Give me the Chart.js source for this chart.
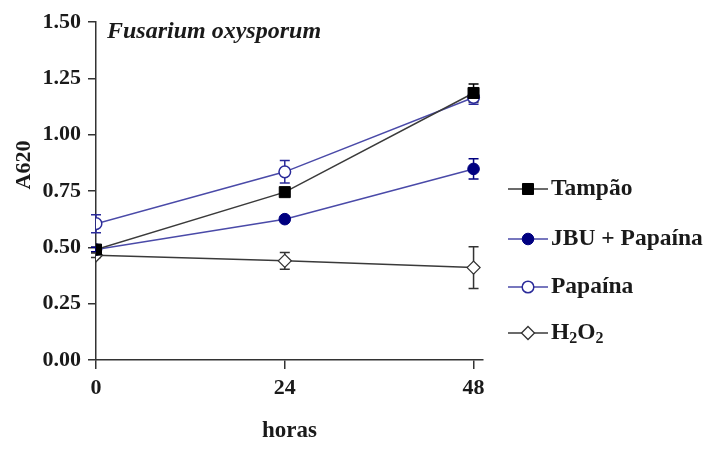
<!DOCTYPE html>
<html>
<head>
<meta charset="utf-8">
<script src="https://cdn.jsdelivr.net/npm/chart.js@4.4.1/dist/chart.umd.min.js"></script>
<style>
  html, body { margin: 0; padding: 0; background: #fff; }
  #wrap { width: 708px; height: 449px; }
</style>
</head>
<body>
<div id="wrap"><canvas id="c" width="708" height="449"></canvas></div>
<script>
// Hours of incubation
const horas = [0, 24, 48];
const xTicks = [0, 24, 48];

// Mean absorbance (A620) and error per treatment
const tampao = [0.49, 0.745, 1.185];
const tampaoErr = [0.01, 0.015, 0.04];
const jbuPapaina = [0.49, 0.625, 0.848];
const jbuPapainaErr = [0.01, 0.012, 0.045];
const papaina = [0.605, 0.835, 1.165];
const papainaErr = [0.04, 0.05, 0.03];
const h2o2 = [0.465, 0.44, 0.41];
const h2o2Err = [0.01, 0.037, 0.093];

const seriesNames = ['Tampão', 'JBU + Papaína', 'Papaína', 'H2O2'];

const SERIF = '"Liberation Serif", "Times New Roman", serif';
const INK = '#1a1a1a';

function pts(values) {
  return values.map((v, i) => ({ x: horas[i], y: v }));
}

const datasets = [
  {
    label: seriesNames[0], data: pts(tampao), err: tampaoErr,
    borderColor: '#3a3a3a', borderWidth: 1.5,
    pointStyle: 'rect', pointRadius: 7.8, pointBackgroundColor: '#000', pointBorderColor: '#000', pointBorderWidth: 1
  },
  {
    label: seriesNames[1], data: pts(jbuPapaina), err: jbuPapainaErr,
    borderColor: '#4a4aa8', borderWidth: 1.5,
    pointStyle: 'circle', pointRadius: 5.8, pointBackgroundColor: '#000080', pointBorderColor: '#000080', pointBorderWidth: 1
  },
  {
    label: seriesNames[2], data: pts(papaina), err: papainaErr,
    borderColor: '#4a4aa8', borderWidth: 1.5,
    pointStyle: 'circle', pointRadius: 5.8, pointBackgroundColor: '#fff', pointBorderColor: '#2b2b9a', pointBorderWidth: 1.5
  },
  {
    label: seriesNames[3], data: pts(h2o2), err: h2o2Err,
    borderColor: '#3a3a3a', borderWidth: 1.5,
    pointStyle: 'rectRot', pointRadius: 6.5, pointBackgroundColor: '#fff', pointBorderColor: '#333', pointBorderWidth: 1.3
  }
];
datasets.forEach(d => { d.fill = false; d.tension = 0; d.errColor = d.pointBorderColor; });

// Vertical error bars with caps, drawn under the markers
const errorBars = {
  id: 'errorBars',
  beforeDatasetsDraw(chart) {
    const { ctx, scales: { x, y } } = chart;
    ctx.save();
    ctx.lineWidth = 1.5;
    chart.data.datasets.forEach(ds => {
      ctx.strokeStyle = ds.errColor;
      ds.data.forEach((p, i) => {
        const e = ds.err[i];
        if (!e) return;
        const px = x.getPixelForValue(p.x);
        const y1 = y.getPixelForValue(p.y + e);
        const y2 = y.getPixelForValue(p.y - e);
        ctx.beginPath();
        ctx.moveTo(px, y1); ctx.lineTo(px, y2);
        ctx.moveTo(px - 5, y1); ctx.lineTo(px + 5, y1);
        ctx.moveTo(px - 5, y2); ctx.lineTo(px + 5, y2);
        ctx.stroke();
      });
    });
    ctx.restore();
  }
};

// Text that sits outside the axes: species name, y title and the key
const annotations = {
  id: 'annotations',
  afterDraw(chart) {
    const { ctx } = chart;
    ctx.save();
    ctx.fillStyle = INK;

    ctx.font = 'italic bold 24px ' + SERIF;
    ctx.textAlign = 'left';
    ctx.textBaseline = 'alphabetic';
    ctx.fillText('Fusarium oxysporum', 107, 38);

    ctx.save();
    ctx.translate(24, 165);
    ctx.rotate(-Math.PI / 2);
    ctx.font = 'bold 22px ' + SERIF;
    ctx.textAlign = 'center';
    ctx.textBaseline = 'middle';
    ctx.fillText('A620', 0, 0);
    ctx.restore();

    const rowsY = [189, 239, 287, 333];
    const x0 = 508, x1 = 548, tx = 551;
    chart.data.datasets.forEach((ds, i) => {
      const yy = rowsY[i];
      ctx.strokeStyle = ds.borderColor;
      ctx.lineWidth = 1.5;
      ctx.beginPath(); ctx.moveTo(x0, yy); ctx.lineTo(x1, yy); ctx.stroke();
      ctx.fillStyle = ds.pointBackgroundColor;
      ctx.strokeStyle = ds.pointBorderColor;
      ctx.lineWidth = ds.pointBorderWidth;
      Chart.helpers.drawPoint(ctx, { pointStyle: ds.pointStyle, radius: ds.pointRadius, borderWidth: ds.pointBorderWidth }, (x0 + x1) / 2, yy);
      ctx.fillStyle = INK;
      ctx.textAlign = 'left';
      ctx.textBaseline = 'middle';
      if (ds.label === 'H2O2') {
        let cx = tx;
        const big = 'bold 23.5px ' + SERIF, small = 'bold 16px ' + SERIF;
        [['H', big, 0], ['2', small, 6], ['O', big, 0], ['2', small, 6]].forEach(([t, f, dy]) => {
          ctx.font = f;
          ctx.fillText(t, cx, yy + dy);
          cx += ctx.measureText(t).width;
        });
      } else {
        ctx.font = 'bold 23.5px ' + SERIF;
        ctx.fillText(ds.label, tx, yy);
      }
    });
    ctx.restore();
  }
};

new Chart(document.getElementById('c'), {
  type: 'line',
  data: { datasets },
  options: {
    responsive: false,
    animation: false,
    layout: { padding: { left: 0, right: 225, top: 22, bottom: 0 } },
    plugins: { legend: { display: false }, tooltip: { enabled: false } },
    scales: {
      x: {
        type: 'linear', min: 0, max: 49.2,
        afterBuildTicks(s) { s.ticks = xTicks.map(v => ({ value: v })); },
        afterFit(s) { s.height = 89; },
        border: { color: '#333', width: 1.5 },
        grid: { drawOnChartArea: false, drawTicks: true, tickLength: 9, color: '#333', lineWidth: 1.5 },
        ticks: { color: INK, font: { family: SERIF, size: 22, weight: 'bold' }, padding: 6, maxRotation: 0 },
        title: { display: true, text: 'horas', color: INK, font: { family: SERIF, size: 23, weight: 'bold' }, padding: { bottom: 4, top: 0 } }
      },
      y: {
        min: 0, max: 1.5,
        afterBuildTicks(s) { s.ticks = [0, 0.25, 0.5, 0.75, 1, 1.25, 1.5].map(v => ({ value: v })); },
        afterFit(s) { s.width = 96; },
        border: { color: '#333', width: 1.5 },
        grid: { drawOnChartArea: false, drawTicks: true, tickLength: 8, color: '#333', lineWidth: 1.5 },
        ticks: { color: INK, font: { family: SERIF, size: 22, weight: 'bold' }, padding: 7, callback: v => v.toFixed(2) }
      }
    }
  },
  plugins: [errorBars, annotations]
});
</script>
</body>
</html>
